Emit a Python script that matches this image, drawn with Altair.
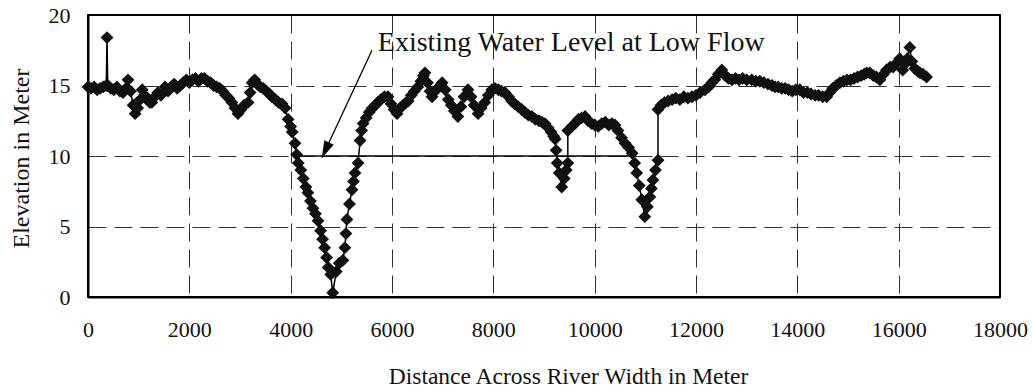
import altair as alt
import pandas as pd

# Distance across river (m) and elevation (m)
dist = [0, 60, 120, 180, 240, 300, 360, 375, 390, 450, 510, 570, 630, 690, 750, 790, 840, 890, 930, 980,
        1030, 1070, 1120, 1170, 1220, 1260, 1320, 1380, 1440, 1520, 1580, 1640, 1700, 1760, 1820, 1880, 1940,
        2000, 2060, 2120, 2180, 2240, 2300, 2360, 2420, 2480, 2540, 2600, 2660, 2720, 2780, 2840, 2900, 2960,
        3020, 3080, 3160, 3200, 3240, 3290, 3340, 3400, 3460, 3520, 3580, 3630, 3700, 3760, 3830, 3890, 3950,
        4000, 4030, 4085, 4120, 4150, 4200, 4250, 4300, 4340, 4390, 4440, 4490, 4540, 4590, 4630, 4670, 4710,
        4740, 4790, 4830, 4900, 4960, 5030, 5070, 5090, 5110, 5160, 5210, 5240, 5270, 5330, 5370, 5400, 5430,
        5490, 5550, 5610, 5670, 5720, 5780, 5850, 5920, 5980, 6040, 6100, 6160, 6220, 6280, 6320, 6380, 6440,
        6510, 6570, 6620, 6650, 6700, 6750, 6790, 6850, 6920, 6990, 7050, 7110, 7170, 7230, 7300, 7360, 7420,
        7500, 7560, 7620, 7700, 7760, 7830, 7900, 7970, 8030, 8100, 8160, 8230, 8300, 8360, 8420, 8490, 8560,
        8620, 8690, 8760, 8830, 8900, 8960, 9020, 9080, 9140, 9190, 9220, 9240, 9260, 9300, 9350, 9400, 9440,
        9470, 9470, 9550, 9610, 9680, 9740, 9810, 9870, 9940, 10000, 10070, 10140, 10210, 10280, 10340, 10400,
        10460, 10530, 10600, 10670, 10740, 10790, 10830, 10880, 10930, 10990, 11040, 11090, 11120, 11150, 11200,
        11250, 11250, 11310, 11380, 11450, 11530, 11600, 11680, 11760, 11840, 11920, 12000, 12080, 12180, 12250,
        12310, 12370, 12440, 12510, 12580, 12640, 12710, 12780, 12850, 12920, 13000, 13100, 13180, 13260, 13340,
        13420, 13500, 13560, 13620, 13690, 13760, 13830, 13900, 13970, 14050, 14120, 14200, 14270, 14350, 14420,
        14500, 14580, 14640, 14700, 14770, 14840, 14910, 14980, 15050, 15120, 15190, 15260, 15320, 15370, 15430,
        15500, 15560, 15630, 15700, 15760, 15830, 15890, 15960, 16020, 16080, 16120, 16170, 16220, 16260, 16320,
        16380, 16420, 16480, 16550]
elev = [14.9, 14.8, 14.9, 14.7, 14.8, 14.9, 15.0, 18.4, 15.0, 14.8, 14.7, 14.9, 14.6, 14.5, 14.8, 15.4, 14.6,
        13.6, 13.0, 13.4, 14.0, 14.7, 14.3, 14.0, 13.8, 13.8, 14.2, 14.5, 14.3, 14.9, 14.6, 14.9, 15.1, 14.8,
        15.0, 15.2, 15.4, 15.2, 15.4, 15.5, 15.3, 15.5, 15.5, 15.3, 15.2, 15.0, 14.9, 14.8, 14.6, 14.3, 14.1,
        13.8, 13.4, 13.0, 13.3, 13.6, 13.8, 14.5, 15.2, 15.4, 15.1, 14.9, 14.8, 14.6, 14.4, 14.2, 14.0, 13.8,
        13.7, 13.4, 12.6, 12.1, 11.7, 10.9, 10.1, 9.5, 9.0, 8.4, 7.8, 7.4, 6.8, 6.3, 5.9, 5.4, 4.7, 4.1, 3.5,
        2.8, 2.1, 1.6, 0.3, 1.8, 2.4, 2.6, 3.5, 4.5, 5.5, 6.6, 7.6, 8.2, 8.8, 9.5, 11.1, 11.8, 12.3, 12.7, 13.1,
        13.4, 13.6, 13.8, 14.0, 14.2, 14.2, 13.7, 13.3, 13.0, 13.4, 13.6, 13.8, 13.9, 14.3, 14.6, 14.9, 15.3,
        15.7, 15.9, 15.2, 14.6, 14.2, 14.6, 14.9, 15.2, 14.7, 14.0, 13.6, 13.2, 12.8, 13.5, 14.2, 14.7, 14.2,
        13.6, 13.0, 13.4, 13.8, 14.3, 14.7, 14.8, 14.7, 14.6, 14.5, 14.2, 13.9, 13.7, 13.5, 13.3, 13.1, 12.9,
        12.8, 12.6, 12.5, 12.4, 12.3, 12.0, 11.7, 11.4, 11.2, 10.4, 9.5, 8.8, 7.8, 8.4, 9.0, 9.5, 11.8, 12.1,
        12.3, 12.6, 12.7, 12.8, 12.5, 12.3, 12.2, 12.1, 12.3, 12.4, 12.2, 12.3, 12.2, 11.8, 11.3, 10.9, 10.6,
        10.2, 9.5, 8.8, 7.9, 6.9, 5.7, 6.4, 7.1, 7.7, 8.3, 9.0, 9.7, 13.3, 13.6, 13.8, 13.9, 14.0, 14.1, 14.0,
        14.2, 14.1, 14.2, 14.3, 14.5, 14.7, 14.9, 15.2, 15.4, 15.8, 16.1, 15.7, 15.5, 15.4, 15.5, 15.4, 15.5,
        15.4, 15.4, 15.3, 15.3, 15.2, 15.1, 15.0, 14.9, 14.9, 14.8, 14.8, 14.7, 14.6, 14.7, 14.7, 14.5, 14.5,
        14.4, 14.3, 14.3, 14.2, 14.2, 14.5, 14.8, 15.0, 15.2, 15.3, 15.4, 15.4, 15.5, 15.6, 15.7, 15.8, 15.9,
        15.9, 15.7, 15.6, 15.4, 15.8, 16.1, 16.3, 16.3, 16.6, 16.9, 16.1, 16.5, 16.9, 17.7, 16.7, 16.2, 16.0,
        15.9, 15.8, 15.6]

water_x = [4100, 10750]
water_y = [10, 10]

label_text = ["Existing Water Level at Low Flow"]
arrow_x = [5605, 4618]
arrow_y = [17.5, 9.9]

df = pd.DataFrame({"x": dist, "y": elev, "i": list(range(len(dist)))})
wl = pd.DataFrame({"x": water_x, "y": water_y})
arr = pd.DataFrame({"x": [arrow_x[0]], "y": [arrow_y[0]], "x2": [arrow_x[1]], "y2": [arrow_y[1]]})
head = pd.DataFrame({"x": [4685], "y": [10.4]})
lab = pd.DataFrame({"x": [5720], "y": [18.0], "t": label_text})

FONT = "Liberation Serif"

xs = alt.Scale(domain=[0, 18000], nice=False)
ys = alt.Scale(domain=[0, 20], nice=False)

xax = alt.Axis(values=list(range(0, 18001, 2000)), format="d", grid=True, gridColor="black",
               gridDash=[18, 8], gridWidth=1, gridOpacity=0.8, ticks=False, labelPadding=22,
               labelFontSize=22, labelFont=FONT, labelColor="#111", domainColor="black", domainWidth=2,
               title="Distance Across River Width in Meter", titleFont=FONT, titleFontSize=23.5,
               titleFontWeight="normal", titleColor="#111", titleX=480, titleY=86,
               titleBaseline="alphabetic", labelFlush=False)
yax = alt.Axis(values=[0, 5, 10, 15, 20], grid=True, gridColor="black", gridDash=[18, 8],
               gridWidth=1, gridOpacity=0.8, ticks=False, labelPadding=18, labelFontSize=22,
               labelFont=FONT, labelColor="#111", domainColor="black", domainWidth=2,
               title="Elevation in Meter", titleFont=FONT, titleFontSize=24, titleFontWeight="normal",
               titleColor="#111", titleX=-67, titleY=143, titleBaseline="middle", titleAngle=-90,
               labelFlush=False)

base = alt.Chart(df)
line = base.mark_line(color="black", strokeWidth=1.5).encode(
    x=alt.X("x:Q", scale=xs, axis=xax),
    y=alt.Y("y:Q", scale=ys, axis=yax),
    order="i:Q")
pts = base.mark_point(shape="diamond", filled=True, color="#111", size=165, opacity=1).encode(
    x=alt.X("x:Q", scale=xs), y=alt.Y("y:Q", scale=ys))

water = alt.Chart(wl).mark_line(color="black", strokeWidth=1.5).encode(
    x=alt.X("x:Q", scale=xs), y=alt.Y("y:Q", scale=ys))

arrow = alt.Chart(arr).mark_rule(color="black", strokeWidth=1.3).encode(
    x=alt.X("x:Q", scale=xs), y=alt.Y("y:Q", scale=ys), x2="x2:Q", y2="y2:Q")

arrowhead = alt.Chart(head).mark_point(shape="M0,-1L0.6,1L-0.6,1Z", filled=True, color="black",
                                       size=300, angle=205, opacity=1).encode(
    x=alt.X("x:Q", scale=xs), y=alt.Y("y:Q", scale=ys))

text = alt.Chart(lab).mark_text(font=FONT, fontSize=28, align="left", baseline="middle",
                                color="#111").encode(
    x=alt.X("x:Q", scale=xs), y=alt.Y("y:Q", scale=ys), text="t:N")

chart = alt.layer(line, water, pts, arrow, arrowhead, text).properties(
    width=912, height=282, background="white",
    padding={"left": 88, "top": 15, "right": 33, "bottom": 95},
    autosize=alt.AutoSizeParams(type="none")
).configure_view(stroke="black", strokeWidth=2)

chart.save("out.html", embed_options={"renderer": "svg", "actions": False})
